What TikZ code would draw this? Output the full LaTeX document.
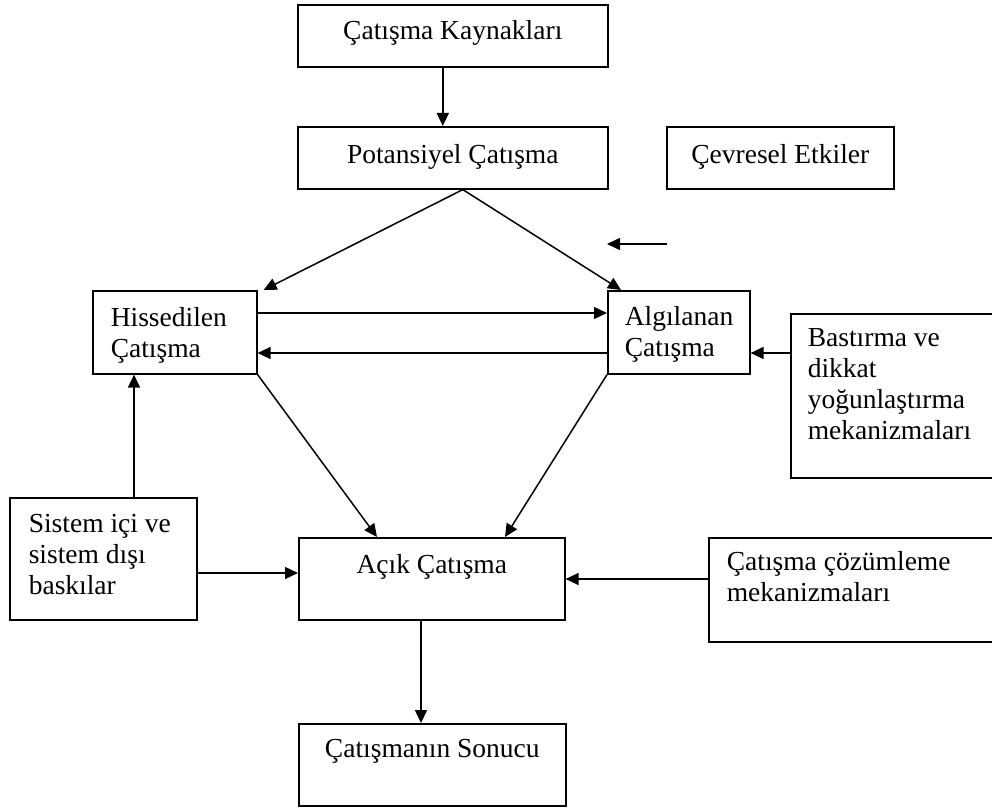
\documentclass[tikz,border=0pt]{standalone}
\usepackage{fontspec}
\setmainfont{Liberation Serif}
\usetikzlibrary{arrows.meta}
\newcommand{\myLbox}[5]{\parbox[c][#2pt][t]{#1pt}{\raggedright\leftskip=#3pt\relax\rule{0pt}{#4pt}#5}}
\newcommand{\myCbox}[4]{\parbox[c][#2pt][t]{#1pt}{\centering\rule{0pt}{#3pt}#4}}
\begin{document}
\begin{tikzpicture}[x=1pt,y=-1pt,
  box/.style={draw, line width=1.6pt, inner sep=0pt, anchor=north west,
    font=\fontsize{27.5}{31}\selectfont},
  arr/.style={-{Triangle[length=13pt,width=12pt]}, line width=1.5pt}]
\useasboundingbox (0,0) rectangle (992,810);
\begin{scope}
\clip (0,0) rectangle (992,810);
\node[box] (k1) at (297,4) {\myCbox{310}{62}{35}{Çatışma Kaynakları}};
\node[box] (pot) at (297,126) {\myCbox{310}{62}{37}{Potansiyel Çatışma}};
\node[box] (cev) at (666,126) {\myCbox{227}{62}{37}{Çevresel Etkiler}};
\node[box] (hiss) at (92,290) {\myLbox{164}{83}{18}{36}{Hissedilen\\Çatışma}};
\node[box] (alg) at (607,290) {\myLbox{142}{83}{17}{35}{Algılanan\\Çatışma}};
\node[box] (bast) at (790,313) {\myLbox{205}{164}{17}{33}{Bastırma ve\\dikkat\\yoğunlaştırma\\mekanizmaları}};
\node[box] (sis) at (9,497) {\myLbox{187}{122}{19}{35}{Sistem içi ve\\sistem dışı\\baskılar}};
\node[box] (acik) at (298,537) {\myCbox{266}{82}{36}{Açık Çatışma}};
\node[box] (coz) at (708,537) {\myLbox{287}{104}{18}{33}{Çatışma çözümleme\\mekanizmaları}};
\node[box] (son) at (298,723) {\myCbox{267}{82}{34}{Çatışmanın Sonucu}};

\coordinate (fa1) at (667,244);
\coordinate (fa2) at (607,244);

\draw[arr] ([xshift=-10pt]k1.south) -- ([xshift=-10pt]pot.north);
\draw[arr] ([xshift=10pt]pot.south) -- ([xshift=6pt]hiss.north east);
\draw[arr] ([xshift=10pt]pot.south) -- ([xshift=14pt]alg.north west);
\draw[arr] (fa1) -- (fa2);
\draw[arr] ([yshift=-23pt]hiss.north east) -- ([yshift=-23pt]alg.north west);
\draw[arr] ([yshift=-63pt]alg.north west) -- ([yshift=-63pt]hiss.north east);
\draw[arr] ([yshift=-40pt]bast.north west) -- ([yshift=-63pt]alg.north east);
\draw[arr] (hiss.south east) -- ([xshift=79pt]acik.north west);
\draw[arr] (alg.south west) -- ([xshift=207pt]acik.north west);
\draw[arr] ([xshift=125pt]sis.north west) coordinate (s0) -- (s0 |- hiss.south);
\draw[arr] ([yshift=-76pt]sis.north east) coordinate (s1) -- (s1 -| acik.west);
\draw[arr] ([yshift=-42pt]coz.north west) coordinate (c1) -- (c1 -| acik.east);
\draw[arr] ([xshift=123pt]acik.south west) coordinate (a1) -- (a1 |- son.north);
\end{scope}
\end{tikzpicture}
\end{document}
